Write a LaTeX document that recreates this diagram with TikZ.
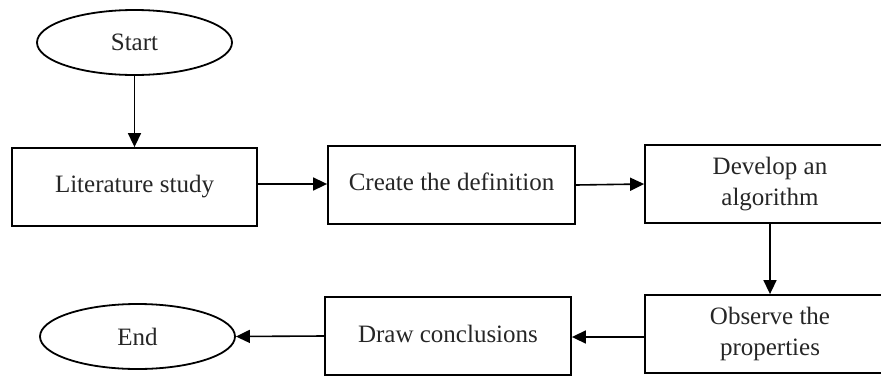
\documentclass[tikz,border=0pt]{standalone}
\usepackage{fontspec}
\setmainfont{Liberation Serif}
\usetikzlibrary{shapes.geometric,arrows.meta}

\begin{document}
\begin{tikzpicture}[
    x=1pt, y=-1pt,
    every node/.style={font=\fontsize{25}{31}\selectfont, text=black!85},
    terminal/.style={draw, ellipse, line width=1.8pt, minimum width=195pt,
                     minimum height=65pt, inner sep=0pt},
    stepbox/.style={draw, rectangle, line width=1.8pt, minimum height=78pt,
                    inner sep=0pt, align=center},
    flow/.style={line width=1.6pt, -{Triangle[length=14pt,width=13pt]}}
]
  \useasboundingbox (0,0) rectangle (881,378);

  % terminals
  \node[terminal] (start) at (134.5,42.5) {Start};
  \node[terminal] (end)   at (137.5,336.5) {End};

  % process steps
  \node[stepbox, minimum width=245pt] (lit)    at (134.5,187) {\raisebox{5pt}{Literature study}};
  \node[stepbox, minimum width=247pt] (create) at (451.5,185) {\raisebox{6pt}{Create the definition}};
  \node[stepbox, minimum width=250pt] (dev)    at (770,184)   {Develop an\\algorithm};
  \node[stepbox, minimum width=250pt] (obs)    at (770,334)   {Observe the\\properties};
  \node[stepbox, minimum width=246pt] (concl)  at (448,336)   {\raisebox{5pt}{Draw conclusions}};

  % connectors
  \draw[flow] (start) -- (lit);
  \draw[flow] ([yshift=3pt]lit.east) -- ([yshift=1pt]create.west);
  \draw[flow] (create.east) -- (dev.west);
  \draw[flow] (dev) -- (obs);
  \draw[flow] ([yshift=-3pt]obs.west) -- ([yshift=-1pt]concl.east);
  \draw[flow] (concl.west) -- (end.east);
\end{tikzpicture}
\end{document}
